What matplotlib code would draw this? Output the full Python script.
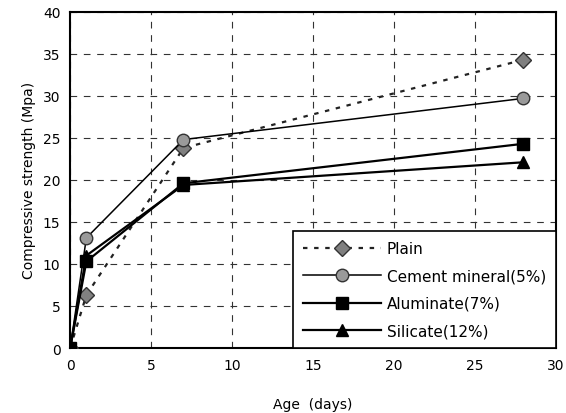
import matplotlib.pyplot as plt

days = [0, 1, 7, 28]
plain = [0, 6.3, 23.8, 34.3]
cement = [0, 13.1, 24.8, 29.7]
aluminate = [0, 10.3, 19.6, 24.3]
silicate = [0, 11.0, 19.4, 22.1]

fig = plt.figure(figsize=(5.66, 4.14), dpi=100)
ax = fig.add_axes([0.124, 0.157, 0.858, 0.812])

ax.plot(days, plain, ls=(0, (2, 3)), lw=1.6, color="#222222", marker="D", ms=8,
        mfc="#808080", mec="#333333", label="Plain", zorder=3)
ax.plot(days, cement, ls="-", lw=1.1, color="black", marker="o", ms=9,
        mfc="#9a9a9a", mec="#333333", label="Cement mineral(5%)", zorder=3)
ax.plot(days, aluminate, ls="-", lw=1.6, color="black", marker="s", ms=9,
        mfc="black", mec="black", label="Aluminate(7%)", zorder=4)
ax.plot(days, silicate, ls="-", lw=1.6, color="black", marker="^", ms=9,
        mfc="black", mec="black", label="Silicate(12%)", zorder=4)

ax.set_xlim(0, 30)
ax.set_ylim(0, 40)
ax.set_xticks(range(0, 31, 5))
ax.set_yticks(range(0, 41, 5))
ax.grid(True, color="#333333", ls=(0, (6, 6)), lw=0.8)
ax.tick_params(direction="in", length=0, labelsize=10, pad=7)
for s in ax.spines.values():
    s.set_linewidth(1.5)

ax.set_xlabel("Age  (days)", fontsize=10, labelpad=18)
ax.set_ylabel("Compressive strength (Mpa)", fontsize=10, labelpad=5)

leg = ax.legend(loc="lower right", frameon=True, fancybox=False, fontsize=11,
                handlelength=5.1, borderaxespad=0, labelspacing=0.8,
                handletextpad=0.4, borderpad=0.65)
leg.get_frame().set_edgecolor("black")
leg.get_frame().set_linewidth(1.2)
leg.get_frame().set_alpha(1)

fig.savefig("out.png", dpi=100)
